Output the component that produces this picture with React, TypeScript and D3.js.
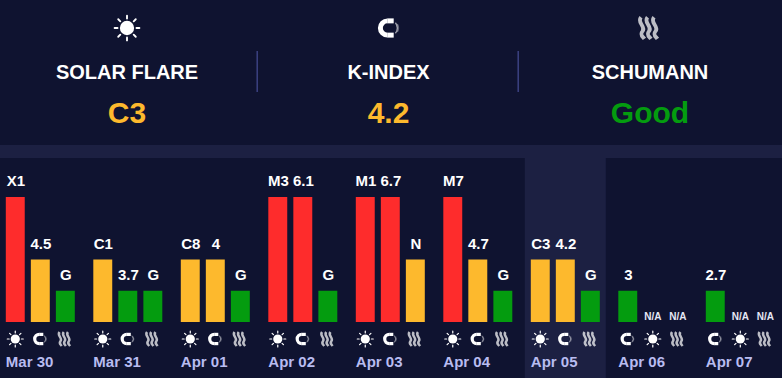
import React from "react";
import * as d3 from "d3";

const W = 782, H = 378;
const dates = ["Mar 30", "Mar 31", "Apr 01", "Apr 02", "Apr 03", "Apr 04", "Apr 05", "Apr 06", "Apr 07"];
const dayLabels = [
  ["X1", "4.5", "G"], ["C1", "3.7", "G"], ["C8", "4", "G"],
  ["M3", "6.1", "G"], ["M1", "6.7", "N"], ["M7", "4.7", "G"],
  ["C3", "4.2", "G"], ["3", "N/A", "N/A"], ["2.7", "N/A", "N/A"],
];
const dayLevels = [
  [4, 2, 1], [2, 1, 1], [2, 2, 1],
  [4, 4, 1], [4, 4, 2], [4, 2, 1],
  [2, 2, 1], [1, 0, 0], [1, 0, 0],
];
const dayIcons = [
  ["sun", "mag", "wave"], ["sun", "mag", "wave"], ["sun", "mag", "wave"],
  ["sun", "mag", "wave"], ["sun", "mag", "wave"], ["sun", "mag", "wave"],
  ["sun", "mag", "wave"], ["mag", "sun", "wave"], ["mag", "sun", "wave"],
];
const headerTitles = ["SOLAR FLARE", "K-INDEX", "SCHUMANN"];
const headerValues = ["C3", "4.2", "Good"];
const headerColors = ["#fdb92d", "#fdb92d", "#049c0f"];
const headerIcons = ["sun", "mag", "wave"];
const levelColors: Record<number, string> = { 4: "#fe2c2c", 2: "#fdb92d", 1: "#049c0f" };
const highlighted = "Apr 05";

const FONT = "'Liberation Sans', Arial, sans-serif";
const BG = "#0f1330";
const BAND = "#1c2042";

const yScale = d3.scaleLinear().domain([0, 4]).range([322, 197]);
const dayX = d3.scaleLinear().domain([0, dates.length - 1]).range([5.8, 705.8]);
const slot = d3.scaleBand<number>().domain([0, 1, 2]).range([0, 69]).paddingInner(0.2435).paddingOuter(0);
const headerX = d3.scalePoint<number>().domain([0, 1, 2]).range([127, 650]);

function Icon({ kind, cx, cy, s }: { kind: string; cx: number; cy: number; s: number }) {
  if (kind === "sun") {
    const rays = d3.range(8).map((i) => (i * Math.PI) / 4);
    return (
      <g transform={`translate(${cx},${cy}) scale(${s})`}>
        <circle r={4.6} fill="#fff" />
        {rays.map((a, i) => (
          <line key={i} x1={Math.cos(a) * 6.1} y1={Math.sin(a) * 6.1} x2={Math.cos(a) * 8} y2={Math.sin(a) * 8}
            stroke="#fff" strokeWidth={1.2} strokeLinecap="round" />
        ))}
      </g>
    );
  }
  if (kind === "mag") {
    const c = d3.arc()({ innerRadius: 3, outerRadius: 6.2, startAngle: 0, endAngle: Math.PI } as any);
    return (
      <g transform={`translate(${cx - 1},${cy}) scale(${s})`}>
        <g transform="rotate(180)"><path d={c as string} fill="#fff" /></g>
        <rect x={-0.1} y={-6.2} width={4.1} height={3.2} fill="#fff" />
        <rect x={-0.1} y={3} width={4.1} height={3.2} fill="#fff" />
        <path d="M5.1,-3.4 A5.2,5.2 0 0 1 5.1,3.4" fill="none" stroke="#fff" strokeOpacity={0.6} strokeWidth={0.9} />
        <path d="M6.4,-2.6 A5.4,5.4 0 0 1 6.4,2.6" fill="none" stroke="#fff" strokeOpacity={0.35} strokeWidth={0.8} />
      </g>
    );
  }
  const wave = (x: number) => `M${x},-7 C${x - 3},-3.5 ${x + 3.4},-1 ${x + 1},2 C${x - 1},4.5 ${x + 1.2},5.5 ${x + 2.2},7`;
  return (
    <g transform={`translate(${cx},${cy}) scale(${s})`}>
      {[-5.8, -1.6, 2.6].map((x) => (
        <path key={x} d={wave(x)} fill="none" stroke="#fff" strokeOpacity={0.72} strokeWidth={2.5} />
      ))}
    </g>
  );
}

export default function App() {
  const hi = dates.indexOf(highlighted);
  return (
    <svg width={W} height={H} style={{ position: "fixed", left: 0, top: 0, display: "block" }} fontFamily={FONT}>
      <rect width={W} height={H} fill={BG} />
      <rect y={145} width={W} height={13} fill={BAND} />
      <rect x={dayX(hi) - 6} y={158} width={81} height={H - 158} fill={BAND} />

      {headerTitles.map((t, i) => (
        <g key={t}>
          <Icon kind={headerIcons[i]} cx={headerX(i)!} cy={28} s={1.55} />
          <text x={headerX(i)!} y={79} textAnchor="middle" fontSize={20} fontWeight={700} fill="#fff">{t}</text>
          <text x={headerX(i)!} y={123} textAnchor="middle" fontSize={30} fontWeight={700} fill={headerColors[i]}>{headerValues[i]}</text>
        </g>
      ))}
      {[257, 518].map((x) => (
        <rect key={x} x={x - 0.5} y={51} width={1.4} height={41} fill="#3f4587" />
      ))}

      {dates.map((d, di) => {
        const x0 = dayX(di);
        return (
          <g key={d}>
            {dayLevels[di].map((lv, k) => {
              const x = x0 + slot(k)!;
              const w = slot.bandwidth();
              const label = dayLabels[di][k];
              const cx = x + w / 2;
              return (
                <g key={k}>
                  {lv > 0 && <rect x={x} y={yScale(lv)} width={w} height={322 - yScale(lv)} fill={levelColors[lv]} />}
                  {lv > 0 ? (
                    <text x={cx + 0.6} y={yScale(lv) - 11} textAnchor="middle" fontSize={15} fontWeight={700} fill="#fff">{label}</text>
                  ) : (
                    <text x={cx} y={320} textAnchor="middle" fontSize={10} fontWeight={700} fill="#e6e8f5">{label}</text>
                  )}
                  <Icon kind={dayIcons[di][k]} cx={cx} cy={339} s={1} />
                </g>
              );
            })}
            <text x={x0} y={367} fontSize={15} fontWeight={700} fill="#b8bcf0">{d}</text>
          </g>
        );
      })}
    </svg>
  );
}
